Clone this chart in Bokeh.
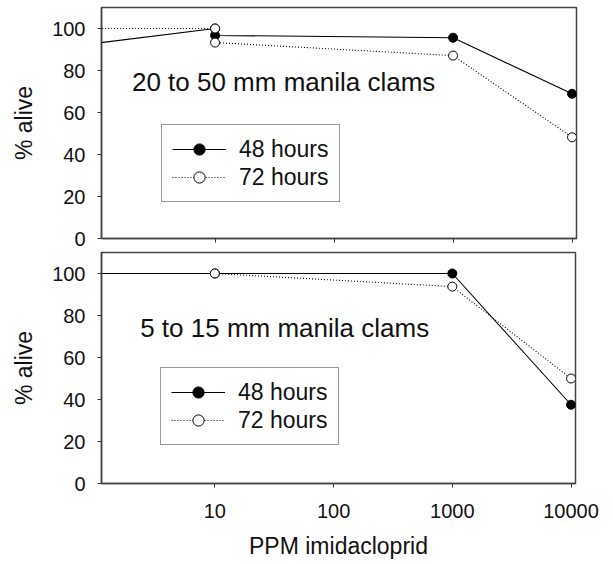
from bokeh.plotting import figure
from bokeh.models import FixedTicker, PrintfTickFormatter, Label
from bokeh.layouts import column
from bokeh.embed import file_html
from bokeh.resources import INLINE

# ---- data ----
ppm_large = [1, 10, 10, 1000, 10000]
large_48h = [93.0, 100.0, 96.7, 95.6, 68.9]
large_72h = [100.0, 100.0, 93.3, 87.1, 48.2]

ppm_small = [1, 10, 1000, 10000]
small_48h = [100.0, 100.0, 100.0, 37.5]
small_72h = [100.0, 100.0, 93.75, 50.0]

x_ticks = [10, 100, 1000, 10000]
y_ticks = [0, 20, 40, 60, 80, 100]
series_labels = ["48 hours", "72 hours"]
panel_titles = ["20 to 50 mm manila clams", "5 to 15 mm manila clams"]

FONT = "Liberation Sans"
FRAME = "#444444"


def make_panel(xs, y48, y72, title, title_xy, legend_loc, left, fw, fh, top, bottom, right,
               show_xlabels):
    p = figure(x_axis_type="log", x_range=(1.11, 10900), y_range=(0, 110),
               frame_width=fw, frame_height=fh,
               min_border_left=left, min_border_right=right,
               min_border_top=top, min_border_bottom=bottom,
               output_backend="svg", toolbar_location=None)
    p.grid.visible = False
    p.outline_line_color = FRAME
    p.outline_line_width = 1.5

    for ax in (p.xaxis[0], p.yaxis[0]):
        ax.axis_line_color = FRAME
        ax.axis_line_width = 1.5
        ax.major_tick_line_color = "#333333"
        ax.major_tick_out = 4
        ax.major_tick_in = 0
        ax.minor_tick_line_color = None
        ax.major_label_text_font = FONT
        ax.major_label_text_font_size = "20px"
        ax.major_label_text_color = "#111111"
        ax.axis_label_text_font = FONT
        ax.axis_label_text_font_style = "normal"
        ax.axis_label_text_font_size = "23px"
        ax.axis_label_text_color = "#111111"

    p.xaxis.ticker = FixedTicker(ticks=x_ticks)
    p.xaxis.formatter = PrintfTickFormatter(format="%d")
    p.yaxis.ticker = FixedTicker(ticks=y_ticks)
    p.yaxis.major_label_standoff = 12
    p.yaxis.axis_label = "% alive"
    p.yaxis.axis_label_standoff = 12

    if show_xlabels:
        p.xaxis.axis_label = "PPM imidacloprid"
        p.xaxis.major_label_standoff = 16
        p.xaxis.axis_label_standoff = 12
    else:
        p.xaxis.major_label_overrides = {t: "" for t in x_ticks}
        p.xaxis.major_label_standoff = 0

    p.line(xs, y48, line_color="black", line_width=1.1, legend_label=series_labels[0])
    p.scatter(xs, y48, size=9, marker="circle", fill_color="black", line_color="black",
              legend_label=series_labels[0])
    p.line(xs, y72, line_color="black", line_width=1.1, line_dash="1 2",
           legend_label=series_labels[1])
    p.scatter(xs, y72, size=9, marker="circle", fill_color="white", line_color="black",
              line_width=1, legend_label=series_labels[1])

    lg = p.legend[0]
    lg.location = legend_loc
    lg.label_text_font = FONT
    lg.label_text_font_size = "23px"
    lg.label_text_color = "#111111"
    lg.glyph_width = 54
    lg.glyph_height = 28
    lg.label_height = 28
    lg.label_standoff = 13
    lg.padding = 10
    lg.spacing = 0
    lg.margin = 0
    lg.border_line_color = "#333333"
    lg.border_line_width = 1.5
    lg.background_fill_color = "white"
    lg.background_fill_alpha = 1

    p.add_layout(Label(x=title_xy[0], y=title_xy[1], text=title, text_baseline="middle",
                       text_font=FONT, text_font_size="26px", text_color="#111111"))
    return p


top = make_panel(ppm_large, large_48h, large_72h, panel_titles[0], (2.0, 74.5), (60, 36),
                 left=96, fw=475, fh=231, top=7, bottom=13, right=34, show_xlabels=False)
bot = make_panel(ppm_small, small_48h, small_72h, panel_titles[1], (2.35, 74.1), (59, 38),
                 left=101, fw=474, fh=231, top=1, bottom=84, right=30, show_xlabels=True)

layout = column(top, bot, spacing=0)
open("out.html", "w").write(file_html(layout, INLINE))
